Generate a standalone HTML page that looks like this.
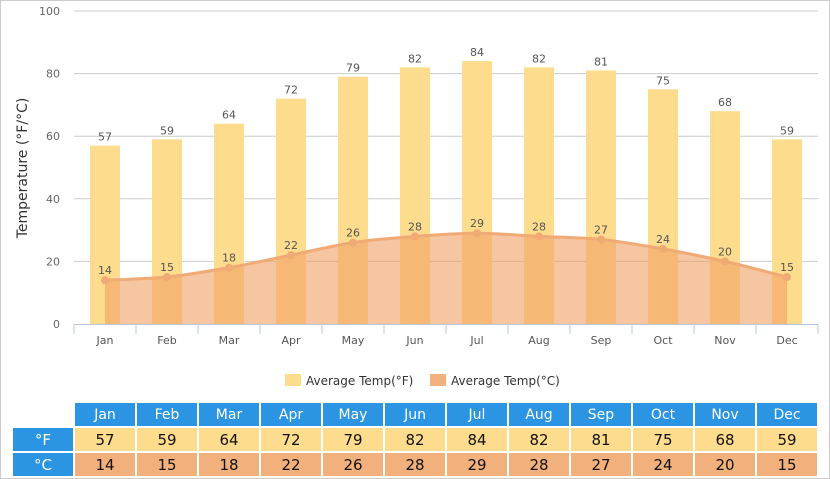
<!DOCTYPE html>
<html><head><meta charset="utf-8"><style>
body{margin:0;width:830px;height:479px;overflow:hidden;background:#fff;font-family:"Liberation Sans","DejaVu Sans",sans-serif}
#frame{position:absolute;left:0;top:0;width:828px;height:477px;border:1px solid #ccc}
svg{position:absolute;left:0;top:0}
table{position:absolute;left:11px;top:401px;border-collapse:separate;border-spacing:2px;font-family:"DejaVu Sans",sans-serif;font-size:15px}
td{height:23px;text-align:center;padding:0;width:60px}
td.h{background:#2b95e3;color:#fff;font-size:14px}
td.f{background:#fddc8e;color:#111}
td.c{background:#f2b07c;color:#111}
td.l{width:60px;background:#2b95e3;color:#fff}
</style></head><body>
<div id="frame"></div>
<svg id="chart" width="830" height="400"></svg>
<table><tbody id="tb"></tbody></table>
<script>
const months=["Jan","Feb","Mar","Apr","May","Jun","Jul","Aug","Sep","Oct","Nov","Dec"];
const tempF=[57,59,64,72,79,82,84,82,81,75,68,59];
const tempC=[14,15,18,22,26,28,29,28,27,24,20,15];
const yTicks=[0,20,40,60,80,100];
const X0=74,X1=818,Y0=324,Y1=11,cw=(X1-X0)/months.length;
const xc=i=>X0+cw*(i+0.5);
const y=v=>Y0-(v/100)*(Y0-Y1);
const svg=document.getElementById('chart');
const NS='http://www.w3.org/2000/svg';
function mk(t,a,txt){const e=document.createElementNS(NS,t);for(const k in a)e.setAttribute(k,a[k]);if(txt!==undefined)e.textContent=txt;svg.appendChild(e);return e;}
yTicks.forEach(v=>{
 if(v>0){const g=mk('line',{x1:X0,x2:X1,y1:y(v),y2:y(v),stroke:'#ccc','stroke-width':1});
 
 }
 const t=mk('text',{x:60,y:y(v)+4,'text-anchor':'end','font-size':11,fill:'#666','font-family':'DejaVu Sans,sans-serif'},v);
 
 
});
const yt=mk('text',{x:0,y:0,transform:'translate(27,168) rotate(-90)','text-anchor':'middle','font-size':14,fill:'#333','font-family':'DejaVu Sans,sans-serif'},'Temperature (°F/°C)');


const ax=mk('line',{x1:X0,x2:X1,y1:Y0+0.5,y2:Y0+0.5,stroke:'#b8c8dc'});


for(let i=0;i<=months.length;i++){const tk=mk('line',{x1:X0+cw*i,x2:X0+cw*i,y1:Y0,y2:Y0+10,stroke:'#b8c8dc'});
 
 }
months.forEach((m,i)=>{
 const b=mk('rect',{x:xc(i)-15,y:y(tempF[i]),width:30,height:Y0-y(tempF[i]),fill:'#fddc8e'});
 
 
 const l=mk('text',{x:xc(i),y:y(tempF[i])-5,'text-anchor':'middle','font-size':11,fill:'#555','font-family':'DejaVu Sans,sans-serif'},tempF[i]);
 
 
 const xl=mk('text',{x:xc(i),y:344,'text-anchor':'middle','font-size':11,fill:'#555','font-family':'DejaVu Sans,sans-serif'},m);
 
 
});
const pts=tempC.map((v,i)=>[xc(i),y(v)]);
let d='M'+pts[0][0]+','+pts[0][1];
for(let i=0;i<pts.length-1;i++){
 const p0=pts[Math.max(0,i-1)],p1=pts[i],p2=pts[i+1],p3=pts[Math.min(pts.length-1,i+2)];
 const k=1/6;
 d+=' C'+(p1[0]+(p2[0]-p0[0])*k)+','+(p1[1]+(p2[1]-p0[1])*k)+' '+(p2[0]-(p3[0]-p1[0])*k)+','+(p2[1]-(p3[1]-p1[1])*k)+' '+p2[0]+','+p2[1];
}
const area=mk('path',{d:d+' L'+pts[pts.length-1][0]+','+Y0+' L'+pts[0][0]+','+Y0+' Z',fill:'rgba(240,160,100,0.6)'});


const ln=mk('path',{d:d,fill:'none',stroke:'#f0aa75','stroke-width':3});


pts.forEach((p,i)=>{
 const c=mk('circle',{cx:p[0],cy:p[1],r:4,fill:'#f0aa75'});
 
 
 const t=mk('text',{x:p[0],y:p[1]-6,'text-anchor':'middle','font-size':11,fill:'#555','font-family':'DejaVu Sans,sans-serif'},tempC[i]);
 
 
});
const lg1=mk('rect',{x:285,y:374,width:16,height:12,fill:'#fddc8e'});


const lt1=mk('text',{x:306,y:385,'font-size':12,fill:'#333','font-family':'DejaVu Sans,sans-serif'},'Average Temp(°F)');


const lg2=mk('rect',{x:430,y:374,width:16,height:12,fill:'#f2b07c'});


const lt2=mk('text',{x:451,y:385,'font-size':12,fill:'#333','font-family':'DejaVu Sans,sans-serif'},'Average Temp(°C)');


const tb=document.getElementById('tb');
function row(label,vals,cls,name){
 const tr=document.createElement('tr');
 
 
 const th=document.createElement('td');
 if(label!==null){th.className='l';th.textContent=label;}else th.style.background='#fff';
 
 
 tr.appendChild(th);
 vals.forEach(v=>{const td=document.createElement('td');td.className=cls;td.textContent=v;
  
  
  tr.appendChild(td);});
 tb.appendChild(tr);
}
row(null,months,'h','header-row');
row('°F',tempF,'f','fahrenheit-row');
row('°C',tempC,'c','celsius-row');
</script>
</body></html>
